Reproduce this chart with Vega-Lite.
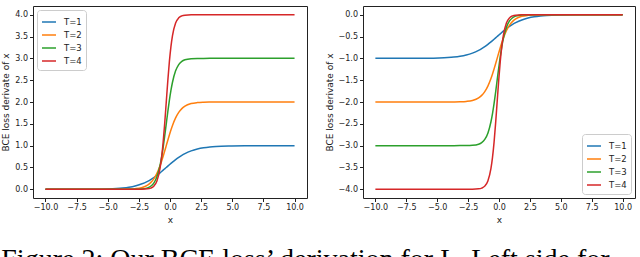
{
  "$schema": "https://vega.github.io/schema/vega-lite/v6.json",
  "padding": {"left": 1, "top": 5, "right": 0, "bottom": 0},
  "datasets": {
    "left": [
      {"x": -10, "T=1": 0.0001, "T=2": 0, "T=3": 0, "T=4": 0},
      {"x": -8, "T=1": 0.0005, "T=2": 0, "T=3": 0, "T=4": 0},
      {"x": -6, "T=1": 0.0033, "T=2": 0, "T=3": 0, "T=4": 0},
      {"x": -5, "T=1": 0.009, "T=2": 0.0002, "T=3": 0, "T=4": 0},
      {"x": -4.3, "T=1": 0.018, "T=2": 0.0007, "T=3": 0, "T=4": 0},
      {"x": -3.8, "T=1": 0.0293, "T=2": 0.0018, "T=3": 0.0001, "T=4": 0},
      {"x": -3.3, "T=1": 0.0474, "T=2": 0.0049, "T=3": 0.0004, "T=4": 0},
      {"x": -2.8, "T=1": 0.0759, "T=2": 0.0134, "T=3": 0.0017, "T=4": 0.0002},
      {"x": -2.3, "T=1": 0.1192, "T=2": 0.036, "T=3": 0.0074, "T=4": 0.0013},
      {"x": -1.8, "T=1": 0.1824, "T=2": 0.0948, "T=3": 0.033, "T=4": 0.0099},
      {"x": -1.55, "T=1": 0.2227, "T=2": 0.1518, "T=3": 0.069, "T=4": 0.0268},
      {"x": -1.3, "T=1": 0.2689, "T=2": 0.2384, "T=3": 0.1422, "T=4": 0.072},
      {"x": -1.05, "T=1": 0.3208, "T=2": 0.3648, "T=3": 0.2859, "T=4": 0.1896},
      {"x": -0.8, "T=1": 0.3775, "T=2": 0.5378, "T=3": 0.5472, "T=4": 0.4768},
      {"x": -0.675, "T=1": 0.4073, "T=2": 0.6416, "T=3": 0.7353, "T=4": 0.7296},
      {"x": -0.55, "T=1": 0.4378, "T=2": 0.755, "T=3": 0.9624, "T=4": 1.0756},
      {"x": -0.425, "T=1": 0.4688, "T=2": 0.8756, "T=3": 1.2219, "T=4": 1.51},
      {"x": -0.3, "T=1": 0.5, "T=2": 1, "T=3": 1.5, "T=4": 2},
      {"x": -0.175, "T=1": 0.5312, "T=2": 1.1244, "T=3": 1.7781, "T=4": 2.49},
      {"x": -0.05, "T=1": 0.5622, "T=2": 1.245, "T=3": 2.0376, "T=4": 2.9244},
      {"x": 0.075, "T=1": 0.5927, "T=2": 1.3584, "T=3": 2.2647, "T=4": 3.2704},
      {"x": 0.2, "T=1": 0.6225, "T=2": 1.4622, "T=3": 2.4528, "T=4": 3.5232},
      {"x": 0.45, "T=1": 0.6792, "T=2": 1.6352, "T=3": 2.7141, "T=4": 3.8104},
      {"x": 0.7, "T=1": 0.7311, "T=2": 1.7616, "T=3": 2.8578, "T=4": 3.928},
      {"x": 0.95, "T=1": 0.7773, "T=2": 1.8482, "T=3": 2.931, "T=4": 3.9732},
      {"x": 1.2, "T=1": 0.8176, "T=2": 1.9052, "T=3": 2.967, "T=4": 3.9901},
      {"x": 1.7, "T=1": 0.8808, "T=2": 1.964, "T=3": 2.9926, "T=4": 3.9987},
      {"x": 2.2, "T=1": 0.9241, "T=2": 1.9866, "T=3": 2.9983, "T=4": 3.9998},
      {"x": 2.7, "T=1": 0.9526, "T=2": 1.9951, "T=3": 2.9996, "T=4": 4},
      {"x": 3.2, "T=1": 0.9707, "T=2": 1.9982, "T=3": 2.9999, "T=4": 4},
      {"x": 3.7, "T=1": 0.982, "T=2": 1.9993, "T=3": 3, "T=4": 4},
      {"x": 4.7, "T=1": 0.9933, "T=2": 1.9999, "T=3": 3, "T=4": 4},
      {"x": 6, "T=1": 0.9982, "T=2": 2, "T=3": 3, "T=4": 4},
      {"x": 8, "T=1": 0.9998, "T=2": 2, "T=3": 3, "T=4": 4},
      {"x": 10, "T=1": 1, "T=2": 2, "T=3": 3, "T=4": 4}
    ],
    "right": [
      {"x": -10, "T=1": -0.9999, "T=2": -2, "T=3": -3, "T=4": -4},
      {"x": -7.85, "T=1": -0.9995, "T=2": -2, "T=3": -3, "T=4": -4},
      {"x": -5.85, "T=1": -0.9967, "T=2": -2, "T=3": -3, "T=4": -4},
      {"x": -4.85, "T=1": -0.991, "T=2": -1.9998, "T=3": -3, "T=4": -4},
      {"x": -4.15, "T=1": -0.982, "T=2": -1.9993, "T=3": -3, "T=4": -4},
      {"x": -3.65, "T=1": -0.9707, "T=2": -1.9982, "T=3": -2.9999, "T=4": -4},
      {"x": -3.15, "T=1": -0.9526, "T=2": -1.9951, "T=3": -2.9996, "T=4": -4},
      {"x": -2.65, "T=1": -0.9241, "T=2": -1.9866, "T=3": -2.9983, "T=4": -3.9998},
      {"x": -2.15, "T=1": -0.8808, "T=2": -1.964, "T=3": -2.9926, "T=4": -3.9987},
      {"x": -1.65, "T=1": -0.8176, "T=2": -1.9052, "T=3": -2.967, "T=4": -3.9901},
      {"x": -1.4, "T=1": -0.7773, "T=2": -1.8482, "T=3": -2.931, "T=4": -3.9732},
      {"x": -1.15, "T=1": -0.7311, "T=2": -1.7616, "T=3": -2.8578, "T=4": -3.928},
      {"x": -0.9, "T=1": -0.6792, "T=2": -1.6352, "T=3": -2.7141, "T=4": -3.8104},
      {"x": -0.65, "T=1": -0.6225, "T=2": -1.4622, "T=3": -2.4528, "T=4": -3.5232},
      {"x": -0.525, "T=1": -0.5927, "T=2": -1.3584, "T=3": -2.2647, "T=4": -3.2704},
      {"x": -0.4, "T=1": -0.5622, "T=2": -1.245, "T=3": -2.0376, "T=4": -2.9244},
      {"x": -0.275, "T=1": -0.5312, "T=2": -1.1244, "T=3": -1.7781, "T=4": -2.49},
      {"x": -0.15, "T=1": -0.5, "T=2": -1, "T=3": -1.5, "T=4": -2},
      {"x": -0.025, "T=1": -0.4688, "T=2": -0.8756, "T=3": -1.2219, "T=4": -1.51},
      {"x": 0.1, "T=1": -0.4378, "T=2": -0.755, "T=3": -0.9624, "T=4": -1.0756},
      {"x": 0.225, "T=1": -0.4073, "T=2": -0.6416, "T=3": -0.7353, "T=4": -0.7296},
      {"x": 0.35, "T=1": -0.3775, "T=2": -0.5378, "T=3": -0.5472, "T=4": -0.4768},
      {"x": 0.6, "T=1": -0.3208, "T=2": -0.3648, "T=3": -0.2859, "T=4": -0.1896},
      {"x": 0.85, "T=1": -0.2689, "T=2": -0.2384, "T=3": -0.1422, "T=4": -0.072},
      {"x": 1.1, "T=1": -0.2227, "T=2": -0.1518, "T=3": -0.069, "T=4": -0.0268},
      {"x": 1.35, "T=1": -0.1824, "T=2": -0.0948, "T=3": -0.033, "T=4": -0.0099},
      {"x": 1.85, "T=1": -0.1192, "T=2": -0.036, "T=3": -0.0074, "T=4": -0.0013},
      {"x": 2.35, "T=1": -0.0759, "T=2": -0.0134, "T=3": -0.0017, "T=4": -0.0002},
      {"x": 2.85, "T=1": -0.0474, "T=2": -0.0049, "T=3": -0.0004, "T=4": 0},
      {"x": 3.35, "T=1": -0.0293, "T=2": -0.0018, "T=3": -0.0001, "T=4": 0},
      {"x": 3.85, "T=1": -0.018, "T=2": -0.0007, "T=3": 0, "T=4": 0},
      {"x": 4.85, "T=1": -0.0067, "T=2": -0.0001, "T=3": 0, "T=4": 0},
      {"x": 6.15, "T=1": -0.0018, "T=2": 0, "T=3": 0, "T=4": 0},
      {"x": 8.15, "T=1": -0.0002, "T=2": 0, "T=3": 0, "T=4": 0},
      {"x": 10, "T=1": 0, "T=2": 0, "T=3": 0, "T=4": 0}
    ]
  },
  "config": {
    "font": "DejaVu Sans",
    "view": {"stroke": "#222", "strokeWidth": 1},
    "axis": {"grid": false, "domain": false, "tickColor": "#222", "tickSize": 3.5, "labelFontSize": 8, "labelColor": "#222", "titleFontSize": 9, "titleFontWeight": "normal", "titleColor": "#222", "labelPadding": 2, "titlePadding": 4},
    "legend": {"fillColor": "white", "strokeColor": "#ccc", "cornerRadius": 3, "padding": 4, "symbolType": "stroke", "symbolStrokeWidth": 1.8, "symbolSize": 196, "labelFontSize": 8.5, "labelColor": "#222", "rowPadding": 0, "labelOffset": 7, "offset": 4},
    "concat": {"spacing": 16},
    "line": {"strokeWidth": 1.5}
  },
  "title": {"text": "Figure 2: Our BCE loss’ derivation for L. Left side for", "orient": "bottom", "anchor": "start", "font": "Liberation Serif", "fontSize": 28, "fontWeight": "normal", "offset": 21, "color": "#000"},
  "hconcat": [
    {
      "width": 274,
      "height": 192,
      "data": {"name": "left"},
      "transform": [{"fold": ["T=1", "T=2", "T=3", "T=4"], "as": ["T", "y"]}],
      "mark": {"type": "line", "interpolate": "monotone", "clip": true},
      "encoding": {
        "x": {"field": "x", "type": "quantitative", "scale": {"domain": [-11, 11], "nice": false, "zero": false}, "axis": {"values": [-10, -7.5, -5, -2.5, 0, 2.5, 5, 7.5, 10], "format": ".1f", "title": "x"}},
        "y": {"field": "y", "type": "quantitative", "scale": {"domain": [-0.2, 4.2], "nice": false, "zero": false}, "axis": {"values": [0, 0.5, 1, 1.5, 2, 2.5, 3, 3.5, 4], "format": ".1f", "title": "BCE loss derivate of x"}},
        "color": {"field": "T", "type": "nominal", "scale": {"domain": ["T=1", "T=2", "T=3", "T=4"], "range": ["#1f77b4", "#ff7f0e", "#2ca02c", "#d62728"]}, "legend": {"title": null, "orient": "top-left"}}
      }
    },
    {
      "width": 272,
      "height": 192,
      "data": {"name": "right"},
      "transform": [{"fold": ["T=1", "T=2", "T=3", "T=4"], "as": ["T", "y"]}],
      "mark": {"type": "line", "interpolate": "monotone", "clip": true},
      "encoding": {
        "x": {"field": "x", "type": "quantitative", "scale": {"domain": [-11, 11], "nice": false, "zero": false}, "axis": {"values": [-10, -7.5, -5, -2.5, 0, 2.5, 5, 7.5, 10], "format": ".1f", "title": "x"}},
        "y": {"field": "y", "type": "quantitative", "scale": {"domain": [-4.2, 0.2], "nice": false, "zero": false}, "axis": {"values": [-4, -3.5, -3, -2.5, -2, -1.5, -1, -0.5, 0], "format": ".1f", "title": "BCE loss derivate of x"}},
        "color": {"field": "T", "type": "nominal", "scale": {"domain": ["T=1", "T=2", "T=3", "T=4"], "range": ["#1f77b4", "#ff7f0e", "#2ca02c", "#d62728"]}, "legend": {"title": null, "orient": "bottom-right"}}
      }
    }
  ]
}
